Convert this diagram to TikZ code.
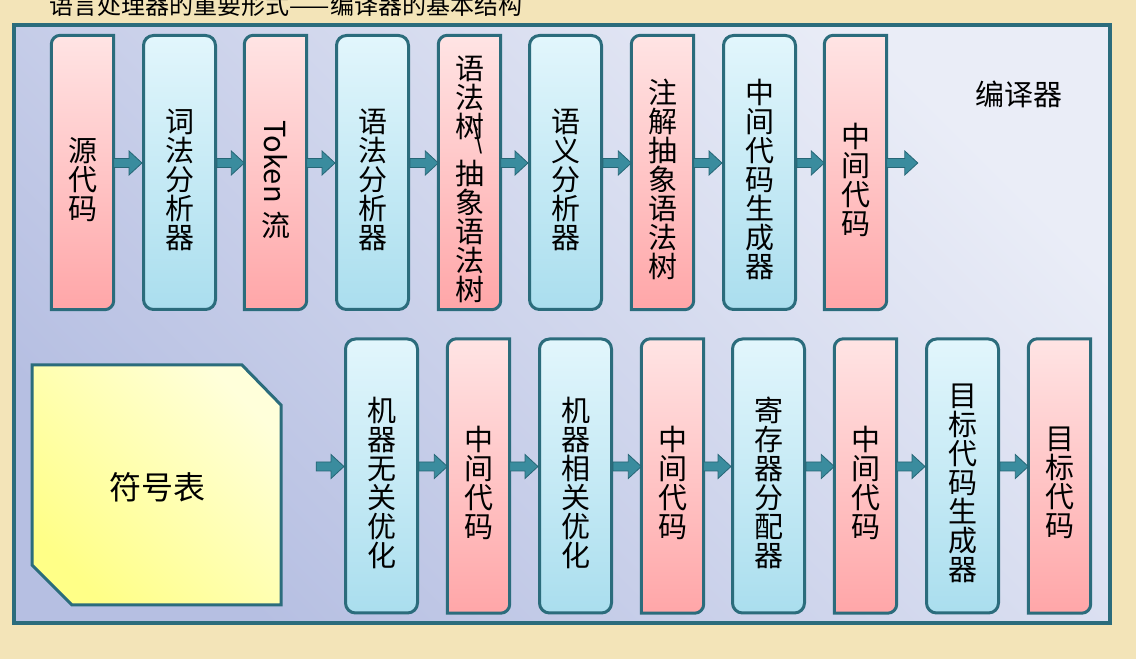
\documentclass[tikz,border=0pt]{standalone}
\usepackage{fontspec}
\usepackage{graphicx}
\newfontfamily\cjk{Noto Sans CJK SC}
\usetikzlibrary{calc}
\pgfdeclarelayer{back}
\pgfdeclarelayer{shapes}
\pgfsetlayers{back,shapes,main}
\definecolor{bgbeige}{RGB}{243,228,184}
\definecolor{edgec}{RGB}{43,108,124}
\definecolor{arrowfill}{RGB}{58,140,158}
\definecolor{arrowedge}{RGB}{38,102,118}
\definecolor{pinktop}{RGB}{255,228,228}
\definecolor{pinkbot}{RGB}{255,166,168}
\definecolor{bluetop}{RGB}{226,246,252}
\definecolor{bluebot}{RGB}{170,222,238}
\definecolor{framelight}{RGB}{234,237,247}
\definecolor{framedark}{RGB}{182,191,226}
\definecolor{yellowlight}{RGB}{255,255,218}
\definecolor{yellowdark}{RGB}{255,255,135}
\newcommand\pinkshape[1]{%
  \begin{pgfonlayer}{shapes}
  \path[pinkfill] let \p1=(#1.south west), \p2=(#1.north east) in
    (\x1,\y1) -- (\x1,\y2-9pt) arc[start angle=180,end angle=90,radius=9pt]
    -- (\x2,\y2) -- (\x2,\y1+9pt) arc[start angle=0,end angle=-90,radius=9pt] -- cycle;
  \end{pgfonlayer}}
\begin{document}
\begin{tikzpicture}[x=1pt,y=1pt,
  framebox/.style={draw=edgec, line width=4pt, top color=framelight, bottom color=framedark, shading angle=-45},
  pinkbox/.style={minimum width=62pt, minimum height=274pt, inner sep=0pt},
  pinkfill/.style={draw=edgec, line width=3pt, top color=pinktop, bottom color=pinkbot},
  bluebox/.style={draw=edgec, line width=3pt, rounded corners=10pt, top color=bluetop, bottom color=bluebot, minimum width=72pt, minimum height=274pt, inner sep=0pt},
  endpoint/.style={inner sep=0pt, minimum size=0pt},
  boxtext/.style={font=\cjk\fontsize{29}{29}\selectfont, align=center, inner sep=0pt, yshift=-7pt},
  symshape/.style={draw=edgec, line width=3pt, top color=yellowlight, bottom color=yellowdark, shading angle=-45},
  symtext/.style={font=\cjk\fontsize{32}{36}\selectfont, inner sep=0pt},
  comptext/.style={font=\cjk\fontsize{29}{32}\selectfont, inner sep=0pt},
  titletext/.style={font=\cjk\fontsize{24}{26}\selectfont, inner sep=0pt},
  blockarrow/.style={draw=arrowedge, fill=arrowfill, line width=0.8pt,
    to path={let \p1=(\tikztostart.0), \p2=(\tikztotarget.180) in
      (\x1,\y1+14pt) -- (\x2-13pt,\y1+14pt) -- (\x2-13pt,\y1+21.5pt) -- (\x2,\y1+9.5pt)
      -- (\x2-13pt,\y1-2.5pt) -- (\x2-13pt,\y1+5pt) -- (\x1,\y1+5pt) -- cycle}}
]
\begin{pgfonlayer}{back}
  \fill[bgbeige] (0,0) rectangle (1136,659);
  \path[framebox] (13.5,36) rectangle (1109.5,634);
\end{pgfonlayer}
\useasboundingbox (0,0) rectangle (1136,659);

\node[titletext, anchor=base] (title) at (286,644) {语言处理器的重要形式——编译器的基本结构};

% top row
\node[pinkbox, label={[boxtext]center:{源\\代\\码}}] (src) at (82.5,486.5) {};
\pinkshape{src}
\node[bluebox, label={[boxtext]center:{词\\法\\分\\析\\器}}] (lex) at (179.5,486.5) {};
\node[pinkbox, label={[boxtext]center:{\rotatebox{-90}{Token}\\[8pt]流}}] (tok) at (275.5,486.5) {};
\pinkshape{tok}
\node[bluebox, label={[boxtext]center:{语\\法\\分\\析\\器}}] (syn) at (372.5,486.5) {};
\node[pinkbox, label={[boxtext]center:{语\\法\\树\llap{\smash{\raisebox{-10pt}{\scalebox{0.9}[1.25]{\textbackslash}}}\hspace{1pt}}\\[18pt]抽\\象\\语\\法\\树}}] (tree) at (469.5,486.5) {};
\pinkshape{tree}
\node[bluebox, label={[boxtext]center:{语\\义\\分\\析\\器}}] (sem) at (565.5,486.5) {};
\node[pinkbox, label={[boxtext]center:{注\\解\\抽\\象\\语\\法\\树}}] (ann) at (662.5,486.5) {};
\pinkshape{ann}
\node[bluebox, label={[boxtext]center:{中\\间\\代\\码\\生\\成\\器}}] (icg) at (759.5,486.5) {};
\node[pinkbox, label={[boxtext]center:{中\\间\\代\\码}}] (ic1) at (855.5,486.5) {};
\pinkshape{ic1}
\node[endpoint] (e1) at (918,486.5) {};

% bottom row
\node[endpoint] (s0) at (316,183) {};
\node[bluebox, label={[boxtext]center:{机\\器\\无\\关\\优\\化}}] (mio) at (381.5,183) {};
\node[pinkbox, label={[boxtext]center:{中\\间\\代\\码}}] (ic2) at (478.5,183) {};
\pinkshape{ic2}
\node[bluebox, label={[boxtext]center:{机\\器\\相\\关\\优\\化}}] (mdo) at (575.5,183) {};
\node[pinkbox, label={[boxtext]center:{中\\间\\代\\码}}] (ic3) at (672.5,183) {};
\pinkshape{ic3}
\node[bluebox, label={[boxtext]center:{寄\\存\\器\\分\\配\\器}}] (reg) at (768.5,183) {};
\node[pinkbox, label={[boxtext]center:{中\\间\\代\\码}}] (ic4) at (865.5,183) {};
\pinkshape{ic4}
\node[bluebox, label={[boxtext]center:{目\\标\\代\\码\\生\\成\\器}}] (tcg) at (962.5,183) {};
\node[pinkbox, label={[boxtext]center:{目\\标\\代\\码}}] (tgt) at (1059.5,183) {};
\pinkshape{tgt}

% symbol table
\path[symshape] (32,294) -- (242,294) -- (281,254) -- (281,54) -- (72,54) -- (32,94) -- cycle;
\node[symtext] (sym) at (157,172) {符号表};

\node[comptext] (comp) at (1019,565) {编译器};

% arrows
\draw[blockarrow] (src) to (lex);
\draw[blockarrow] (lex) to (tok);
\draw[blockarrow] (tok) to (syn);
\draw[blockarrow] (syn) to (tree);
\draw[blockarrow] (tree) to (sem);
\draw[blockarrow] (sem) to (ann);
\draw[blockarrow] (ann) to (icg);
\draw[blockarrow] (icg) to (ic1);
\draw[blockarrow] (ic1) to (e1);
\draw[blockarrow] (s0) to (mio);
\draw[blockarrow] (mio) to (ic2);
\draw[blockarrow] (ic2) to (mdo);
\draw[blockarrow] (mdo) to (ic3);
\draw[blockarrow] (ic3) to (reg);
\draw[blockarrow] (reg) to (ic4);
\draw[blockarrow] (ic4) to (tcg);
\draw[blockarrow] (tcg) to (tgt);
\end{tikzpicture}
\end{document}
